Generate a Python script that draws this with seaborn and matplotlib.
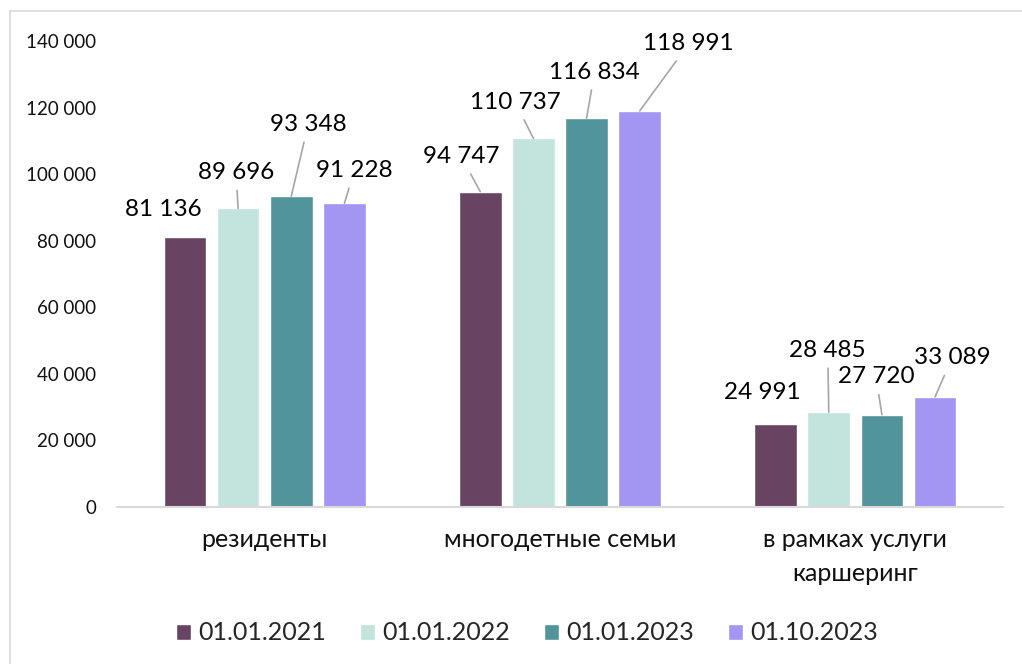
import pandas as pd
import seaborn as sns
from matplotlib import pyplot as plt
from matplotlib.lines import Line2D
from matplotlib.ticker import FuncFormatter

# data
categories = ["резиденты", "многодетные семьи", "в рамках услуги\nкаршеринг"]
dates = ["01.01.2021", "01.01.2022", "01.01.2023", "01.10.2023"]
v_2021 = [81136, 94747, 24991]
v_2022 = [89696, 110737, 28485]
v_2023 = [93348, 116834, 27720]
v_2023_10 = [91228, 118991, 33089]
colors = ["#694462", "#C2E4DD", "#52949B", "#A395F2"]

rows = []
for d, vals in zip(dates, [v_2021, v_2022, v_2023, v_2023_10]):
    for c, v in zip(categories, vals):
        rows.append({"cat": c, "date": d, "value": v})
df = pd.DataFrame(rows)

sns.set_style("white")
plt.rcParams["font.family"] = ["Lato", "Noto Sans", "DejaVu Sans"]

fig = plt.figure(figsize=(10.22, 6.64), dpi=100)
ax = fig.add_axes([117 / 1022, 1 - 507 / 664, (1003 - 117) / 1022, (507 - 41) / 664])

sns.barplot(data=df, x="cat", y="value", hue="date", order=categories, hue_order=dates,
            palette=colors, width=0.72, gap=0.2, saturation=1, errorbar=None, ax=ax)

ax.set_ylim(0, 140000)
ax.set_xlim(-0.5, 2.5)
ax.set_yticks(range(0, 140001, 20000))
ax.yaxis.set_major_formatter(FuncFormatter(lambda v, p: f"{int(v):,}".replace(",", " ")))
ax.set_xlabel("")
ax.set_ylabel("")
ax.tick_params(axis="y", labelsize=13.5, pad=15, length=0, labelcolor="#111111")
ax.tick_params(axis="x", labelsize=18, pad=15, length=0, labelcolor="#111111")
for lbl in ax.get_xticklabels():
    lbl.set_linespacing(1.6)
for s in ["top", "right", "left"]:
    ax.spines[s].set_visible(False)
ax.spines["bottom"].set_color("#D9D9D9")
ax.spines["bottom"].set_linewidth(1.5)

# label offsets in pixels from bar top (dx, dy up) and whether a leader line is drawn
offsets = [
    [(-22, 27, False), (-19, 35, True), (-13, 31, False)],
    [(-2, 36, True), (-18, 36, True), (-1, 62, True)],
    [(17, 72, True), (8, 46, True), (-6, 38, True)],
    [(10, 33, True), (49, 67, True), (17, 39, True)],
]
pt = 72 / 100
for i, cont in enumerate(ax.containers):
    for j, bar in enumerate(cont):
        h = bar.get_height()
        x = bar.get_x() + bar.get_width() / 2
        dx, dy, line = offsets[i][j]
        txt = f"{int(h):,}".replace(",", " ")
        props = dict(arrowstyle="-", color="#A6A6A6", lw=1.2, shrinkA=3, shrinkB=0) if line else None
        ax.annotate(txt, xy=(x, h), xytext=(dx * pt, dy * pt), textcoords="offset points",
                    ha="center", va="center", fontsize=17.5, color="#000000",
                    arrowprops=props, annotation_clip=False)

ax.legend(loc="center", bbox_to_anchor=(527 / 1022, 1 - 633 / 664), bbox_transform=fig.transFigure,
          ncol=4, frameon=False, fontsize=18, handlelength=0.6, handleheight=0.6,
          handletextpad=0.3, columnspacing=1.35)

# outer chart border
fig.add_artist(Line2D([10 / 1022, 10 / 1022], [0, 1 - 11 / 664], color="#D9D9D9", lw=1.2))
fig.add_artist(Line2D([10 / 1022, 1], [1 - 11 / 664, 1 - 11 / 664], color="#D9D9D9", lw=1.2))

fig.savefig("out.png", dpi=100)
